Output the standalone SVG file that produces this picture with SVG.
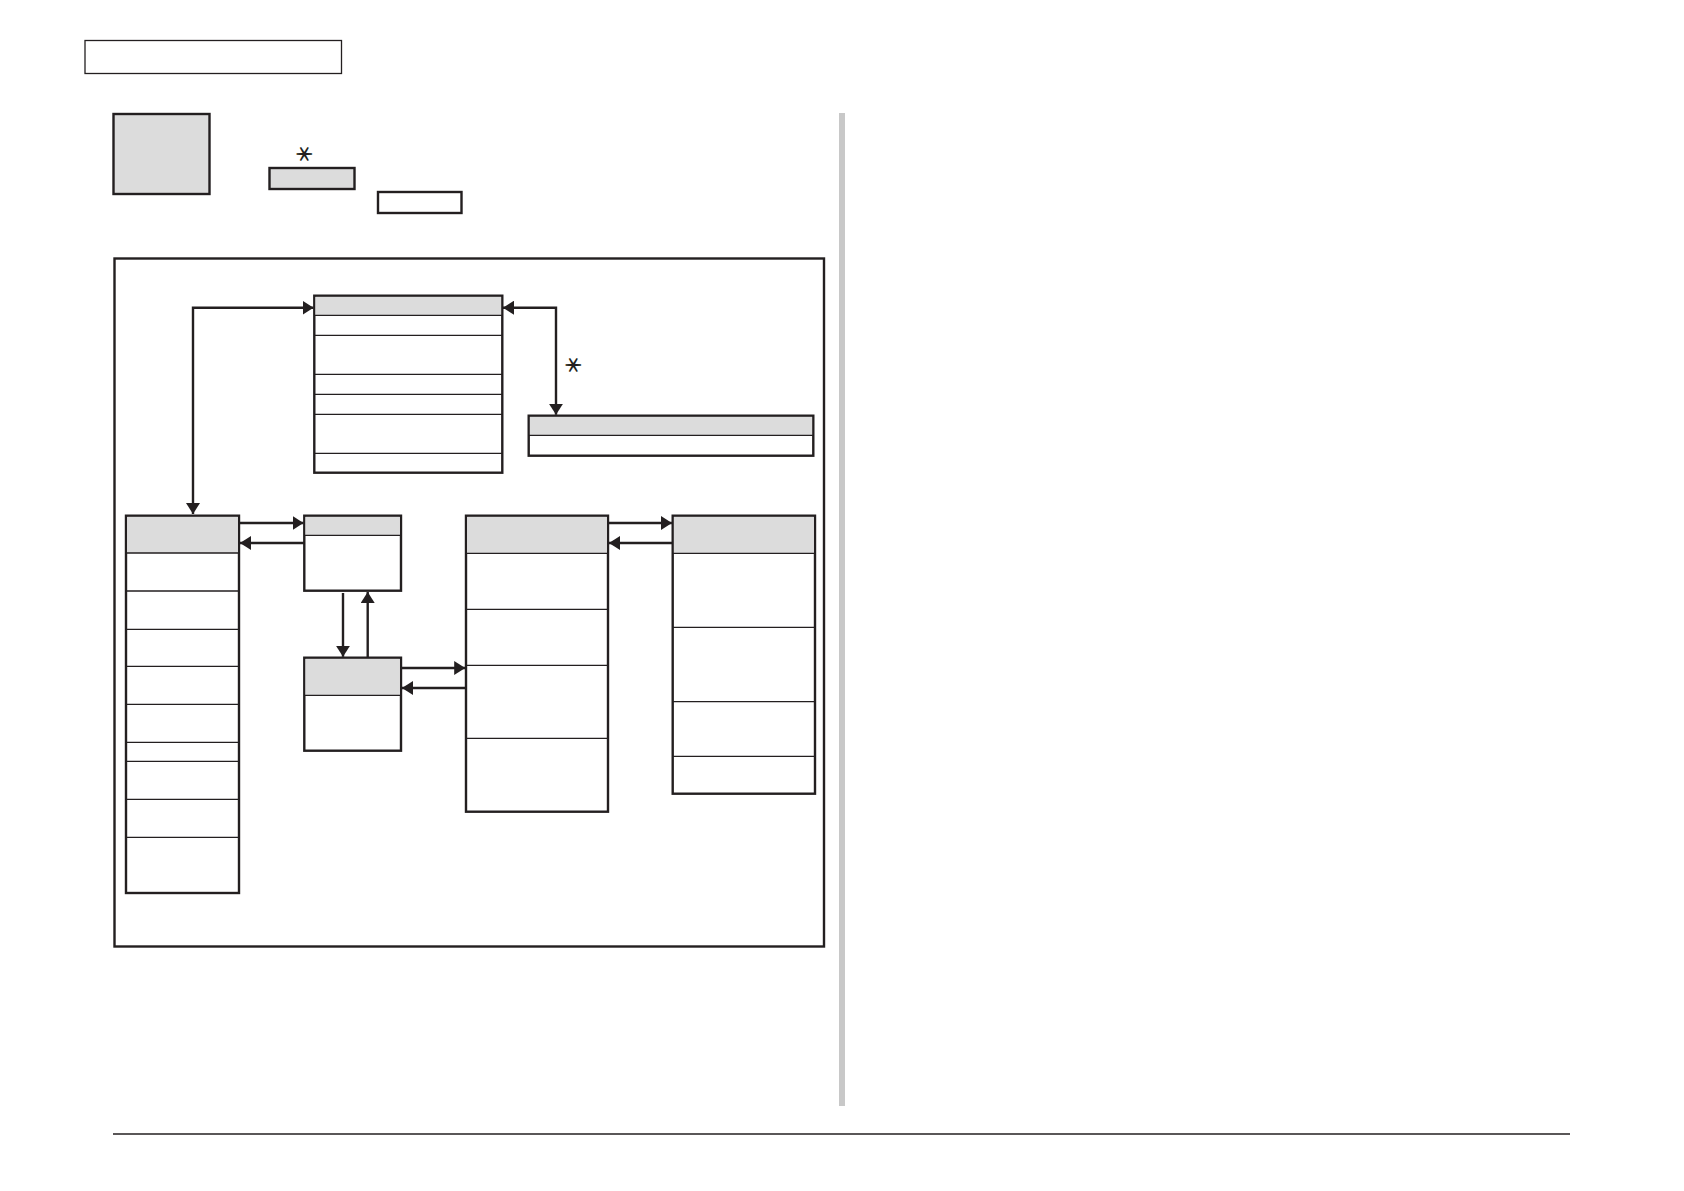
<svg xmlns="http://www.w3.org/2000/svg" width="1684" height="1191" viewBox="0 0 1684 1191">
<defs>
<style>
.box{fill:#fff;stroke:#231f20;stroke-width:2.4}
.hdr{fill:#dcdcdc;stroke:none}
.div{stroke:#231f20;stroke-width:1.3;fill:none}
.con{stroke:#231f20;stroke-width:2.4;fill:none}
.ast{font-family:"Noto Sans CJK JP","DejaVu Sans",sans-serif;font-size:20px;font-weight:bold;fill:#231f20}
</style>
<marker id="ah" markerUnits="userSpaceOnUse" markerWidth="12" markerHeight="14" refX="11" refY="7" orient="auto-start-reverse" viewBox="0 0 12 14">
<path d="M0,0 L11,7 L0,14 z" fill="#231f20"/>
</marker>
</defs>
<rect width="1684" height="1191" fill="#fff"/>

<g id="page-header">
<rect x="85" y="40.5" width="256.5" height="33" fill="#fff" stroke="#231f20" stroke-width="1.3"/>
</g>

<g id="legend">
<rect x="113.5" y="114" width="96" height="80" fill="#dcdcdc" stroke="#231f20" stroke-width="2.4"/>
<text class="ast" x="304.5" y="154" text-anchor="middle" dominant-baseline="central" transform="rotate(90 304.5 154)">＊</text>
<rect x="269.5" y="168" width="85" height="21" fill="#dcdcdc" stroke="#231f20" stroke-width="2.4"/>
<rect x="378" y="192" width="83.5" height="21" fill="#fff" stroke="#231f20" stroke-width="2.4"/>
</g>

<g id="separator">
<rect x="839" y="113" width="6" height="993" fill="#c8c8c8"/>
<line x1="113" y1="1134" x2="1570" y2="1134" stroke="#231f20" stroke-width="1.5"/>
</g>

<g id="frame">
<rect x="114.5" y="258.5" width="709.5" height="688" fill="none" stroke="#231f20" stroke-width="2.4"/>
</g>

<g id="node-top">
<rect class="box" x="314.3" y="295.7" width="188" height="177"/>
<rect class="hdr" x="315.5" y="296.9" width="185.6" height="18.4"/>
<path class="div" d="M314.3,315.3H502.3M314.3,335.3H502.3M314.3,374.3H502.3M314.3,394.3H502.3M314.3,414.3H502.3M314.3,453.3H502.3"/>
</g>

<g id="node-right">
<rect class="box" x="528.7" y="415.7" width="284.6" height="40"/>
<rect class="hdr" x="529.9" y="416.9" width="282.2" height="18.4"/>
<path class="div" d="M528.7,435.3H813.3"/>
</g>

<g id="node-left">
<rect class="box" x="126" y="515.7" width="113" height="377.3"/>
<rect class="hdr" x="127.2" y="516.9" width="110.6" height="36.1"/>
<path class="div" d="M126,553H239M126,591H239M126,629.3H239M126,666.3H239M126,704.3H239M126,742.3H239M126,761.3H239M126,799.3H239M126,837.3H239"/>
</g>

<g id="node-a">
<rect class="box" x="304.3" y="515.7" width="96.7" height="75"/>
<rect class="hdr" x="305.5" y="516.9" width="94.3" height="18.4"/>
<path class="div" d="M304.3,535.3H401"/>
</g>

<g id="node-b">
<rect class="box" x="304.3" y="657.7" width="96.7" height="93"/>
<rect class="hdr" x="305.5" y="658.9" width="94.3" height="36.4"/>
<path class="div" d="M304.3,695.3H401"/>
</g>

<g id="node-c">
<rect class="box" x="466" y="515.7" width="142" height="296"/>
<rect class="hdr" x="467.2" y="516.9" width="139.6" height="36.4"/>
<path class="div" d="M466,553.3H608M466,609.3H608M466,665.3H608M466,738.3H608"/>
</g>

<g id="node-d">
<rect class="box" x="672.7" y="515.7" width="142.3" height="278"/>
<rect class="hdr" x="673.9" y="516.9" width="139.9" height="36.4"/>
<path class="div" d="M672.7,553.3H815M672.7,627.3H815M672.7,701.7H815M672.7,756.3H815"/>
</g>

<g id="connectors">
<path class="con" d="M193,514 V307.7 H313.5" marker-start="url(#ah)" marker-end="url(#ah)"/>
<path class="con" d="M503,307.7 H556 V414.8" marker-start="url(#ah)" marker-end="url(#ah)"/>
<text class="ast" x="573.5" y="365" text-anchor="middle" dominant-baseline="central" transform="rotate(90 573.5 365)">＊</text>
<path class="con" d="M240,523 H303.5" marker-end="url(#ah)"/>
<path class="con" d="M304.3,543 H240" marker-end="url(#ah)"/>
<path class="con" d="M343,593 V656.8" marker-end="url(#ah)"/>
<path class="con" d="M367.7,657.7 V592" marker-end="url(#ah)"/>
<path class="con" d="M402,668 H465.2" marker-end="url(#ah)"/>
<path class="con" d="M466,688 H402" marker-end="url(#ah)"/>
<path class="con" d="M609,523 H671.9" marker-end="url(#ah)"/>
<path class="con" d="M672.7,543 H609" marker-end="url(#ah)"/>
</g>
</svg>
